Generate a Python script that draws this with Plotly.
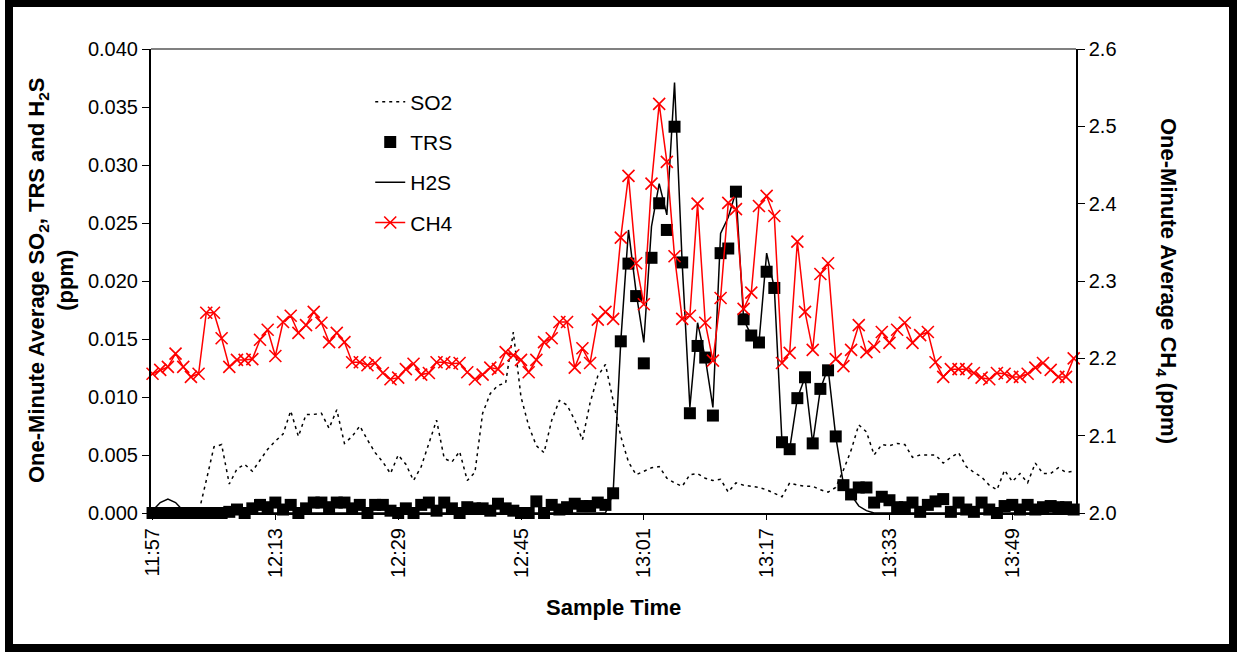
import pandas as pd
import plotly.graph_objects as go

# ---- data ----
sample_times = list(pd.date_range("2000-01-01 11:57", "2000-01-01 13:57", freq="1min").strftime("%H:%M"))
tick_labels = ["11:57", "12:13", "12:29", "12:45", "13:01", "13:17", "13:33", "13:49"]

so2 = [0, 0, 0, 0, 0, 0, 0,
       0.0028, 0.0057, 0.0059, 0.0025, 0.0038, 0.0042, 0.0036, 0.0046, 0.0055, 0.0062, 0.0068, 0.0088,
       0.0066, 0.0085, 0.0085, 0.0086, 0.0073, 0.0089, 0.0060, 0.0066, 0.0075, 0.0063, 0.0052,
       0.0044, 0.0034, 0.0050, 0.0042, 0.0028, 0.0040, 0.0060, 0.0080, 0.0047, 0.0044, 0.0053, 0.0028,
       0.0035, 0.0086, 0.0103, 0.0110, 0.0112, 0.0156, 0.0100, 0.0075, 0.0058, 0.0052, 0.0080, 0.0097,
       0.0093, 0.0080, 0.0063, 0.0095, 0.0118, 0.0128,
       0.0097, 0.0066, 0.0044, 0.0033, 0.0036, 0.0039, 0.0040, 0.0030, 0.0026, 0.0023, 0.0033, 0.0034,
       0.0030, 0.0028, 0.0029, 0.0018, 0.0026, 0.0024, 0.0023, 0.0022, 0.0020, 0.0017, 0.0014, 0.0026,
       0.0024, 0.0023, 0.0023, 0.0020, 0.0018, 0.0022,
       0.0037, 0.0054, 0.0076, 0.0070, 0.0050, 0.0059, 0.0058, 0.0060, 0.0059, 0.0048, 0.0050, 0.0050,
       0.0050, 0.0043, 0.0048, 0.0052, 0.0040, 0.0035, 0.0031, 0.0024, 0.0020, 0.0037, 0.0027, 0.0034,
       0.0026, 0.0043, 0.0034, 0.0034, 0.0039, 0.0035, 0.0036]

trs = [0, 0, 0, 0, 0, 0, 0, 0, 0, 0, 0.0001,
       0.0003, 0.0000, 0.0004, 0.0007, 0.0005, 0.0009, 0.0003, 0.0007, 0.0000, 0.0004, 0.0009, 0.0009,
       0.0005, 0.0009, 0.0009, 0.0004, 0.0007, 0.0000, 0.0007, 0.0007, 0.0002, 0.0000, 0.0004, 0.0000,
       0.0007, 0.0009, 0.0002, 0.0009, 0.0004, 0.0000, 0.0005, 0.0004, 0.0004, 0.0002, 0.0008, 0.0004,
       0.0002, 0.0000, 0.0000, 0.0010, 0.0000, 0.0007, 0.0003, 0.0005, 0.0008, 0.0006, 0.0006, 0.0009,
       0.0007, 0.0017, 0.0148, 0.0215, 0.0187, 0.0129, 0.0220, 0.0267, 0.0244, 0.0333, 0.0216, 0.0086,
       0.0144, 0.0134, 0.0084, 0.0224, 0.0228, 0.0277, 0.0167, 0.0153, 0.0147, 0.0208, 0.0194, 0.0061,
       0.0055, 0.0099, 0.0117, 0.0060, 0.0107, 0.0123, 0.0066,
       0.0024, 0.0016, 0.0022, 0.0022, 0.0009, 0.0014, 0.0011, 0.0005, 0.0005, 0.0009, 0.0001, 0.0007,
       0.0010, 0.0012, 0.0001, 0.0009, 0.0003, 0.0001, 0.0009, 0.0003, 0.0000, 0.0006, 0.0007, 0.0003,
       0.0007, 0.0003, 0.0005, 0.0006, 0.0005, 0.0005, 0.0003]

h2s = [0.0002, 0.0009, 0.0012, 0.0009, 0.0002,
       0, 0, 0, 0, 0, 0, 0, 0, 0, 0, 0, 0, 0, 0, 0, 0, 0, 0, 0, 0, 0, 0, 0, 0, 0, 0, 0,
       0, 0, 0, 0, 0, 0, 0, 0, 0, 0, 0, 0, 0, 0, 0, 0, 0, 0, 0, 0, 0, 0, 0, 0, 0, 0, 0,
       0.0000, 0.0017, 0.0148, 0.0244, 0.0190, 0.0147, 0.0247, 0.0284, 0.0257, 0.0371, 0.0215, 0.0091,
       0.0164, 0.0134, 0.0091, 0.0241, 0.0255, 0.0277, 0.0167, 0.0153, 0.0147, 0.0224, 0.0194, 0.0061,
       0.0055, 0.0099, 0.0117, 0.0060, 0.0107, 0.0125, 0.0066, 0.0025, 0.0015, 0.0006, 0.0002,
       0, 0, 0, 0, 0, 0, 0, 0, 0, 0, 0, 0, 0, 0, 0, 0, 0, 0, 0, 0, 0, 0, 0, 0, 0, 0, 0]

ch4 = [2.180, 2.185, 2.189, 2.206, 2.189, 2.176, 2.180, 2.259, 2.259, 2.226, 2.189, 2.198, 2.198,
       2.199, 2.224, 2.237, 2.203, 2.247, 2.255, 2.233, 2.243, 2.260, 2.246, 2.221, 2.233, 2.221,
       2.195, 2.195, 2.191,
       2.194, 2.181, 2.173, 2.175, 2.186, 2.193, 2.179, 2.181, 2.195, 2.195, 2.193, 2.194, 2.182,
       2.173, 2.179, 2.188, 2.186, 2.208, 2.204, 2.198, 2.182, 2.198, 2.221, 2.226, 2.247, 2.247,
       2.188, 2.213, 2.194, 2.250, 2.260,
       2.251, 2.356, 2.436, 2.323, 2.270, 2.426, 2.529, 2.454, 2.332, 2.251, 2.255, 2.400, 2.246,
       2.197, 2.278, 2.401, 2.393, 2.264, 2.285, 2.397, 2.410, 2.384, 2.194, 2.207, 2.351, 2.260,
       2.211, 2.309, 2.323, 2.199,
       2.190, 2.211, 2.243, 2.208, 2.215, 2.234, 2.220, 2.237, 2.246, 2.220, 2.230, 2.234, 2.195,
       2.176, 2.186, 2.186, 2.186, 2.181, 2.175, 2.173, 2.181, 2.180, 2.176, 2.176, 2.180, 2.188,
       2.194, 2.185, 2.176, 2.176, 2.200]

FONT = "Liberation Sans, Arial, sans-serif"

fig = go.Figure()
fig.add_trace(go.Scatter(x=sample_times, y=so2, name="SO2", mode="lines",
                         line=dict(color="black", width=1.5, dash="3px,4px"),
                         legendgroup="a", cliponaxis=False))
fig.add_trace(go.Scatter(x=sample_times, y=trs, name="TRS", mode="markers",
                         marker=dict(symbol="square", size=12, color="black"),
                         legendgroup="b", cliponaxis=False))
fig.add_trace(go.Scatter(x=sample_times, y=h2s, name="H2S", mode="lines",
                         line=dict(color="black", width=1.5),
                         legendgroup="c", cliponaxis=False))
fig.add_trace(go.Scatter(x=sample_times, y=ch4, name="CH4", mode="lines+markers", yaxis="y2",
                         line=dict(color="#ff0000", width=1.5),
                         marker=dict(symbol="x-thin", size=12, color="#ff0000",
                                     line=dict(color="#ff0000", width=1.6)),
                         legendgroup="d", cliponaxis=False))

fig.update_layout(
    width=1238, height=653,
    margin=dict(l=151, r=162, t=49, b=140),
    paper_bgcolor="white", plot_bgcolor="white",
    font=dict(family=FONT, size=20, color="black"),
    showlegend=True,
    legend=dict(x=0.237, y=0.93, xanchor="left", yanchor="top",
                bgcolor="rgba(0,0,0,0)", font=dict(size=21),
                traceorder="grouped", tracegroupgap=10),
    xaxis=dict(type="category", range=[-0.2, 120.3],
               tickvals=tick_labels, ticktext=tick_labels, tickangle=-90,
               showgrid=False, zeroline=False,
               showline=True, linecolor="black", linewidth=2,
               ticks="outside", ticklen=5, tickcolor="black",
               tickfont=dict(size=20)),
    yaxis=dict(range=[0, 0.040], dtick=0.005, tickformat=".3f",
               showgrid=False, zeroline=False,
               showline=True, linecolor="black", linewidth=2,
               ticks="outside", ticklen=7, tickcolor="black",
               tickfont=dict(size=20)),
    yaxis2=dict(range=[2.0, 2.6], dtick=0.1, tickformat=".1f",
                overlaying="y", side="right",
                showgrid=False, zeroline=False,
                showline=True, linecolor="black", linewidth=1.5,
                ticks="outside", ticklen=7, tickcolor="black",
                tickfont=dict(size=20)),
    shapes=[
        # plot area top border
        dict(type="line", xref="paper", yref="paper", x0=0, x1=1, y0=1, y1=1,
             line=dict(color="#808080", width=2)),
        # chart frame
        dict(type="rect", xref="paper", yref="paper",
             x0=(9 - 151) / 925, x1=(1233 - 151) / 925,
             y0=(513 - 648) / 464, y1=(513 - 3) / 464,
             line=dict(color="black", width=8), fillcolor="rgba(0,0,0,0)", layer="below"),
    ],
    annotations=[
        dict(text="<b>One-Minute Average SO<sub>2</sub>, TRS and H<sub>2</sub>S<br>(ppm)</b>",
             xref="paper", yref="paper", x=(51 - 151) / 925, y=0.5,
             xanchor="center", yanchor="middle", textangle=-90, showarrow=False,
             font=dict(size=22)),
        dict(text="<b>One-Minute Average CH<sub>4</sub> (ppm)</b>",
             xref="paper", yref="paper", x=(1167 - 151) / 925, y=0.5,
             xanchor="center", yanchor="middle", textangle=90, showarrow=False,
             font=dict(size=22)),
        dict(text="<b>Sample Time</b>", xref="paper", yref="paper",
             x=(613 - 151) / 925, y=(513 - 607) / 464,
             xanchor="center", yanchor="middle", showarrow=False,
             font=dict(size=22)),
    ],
)

fig.write_html("out.html")
